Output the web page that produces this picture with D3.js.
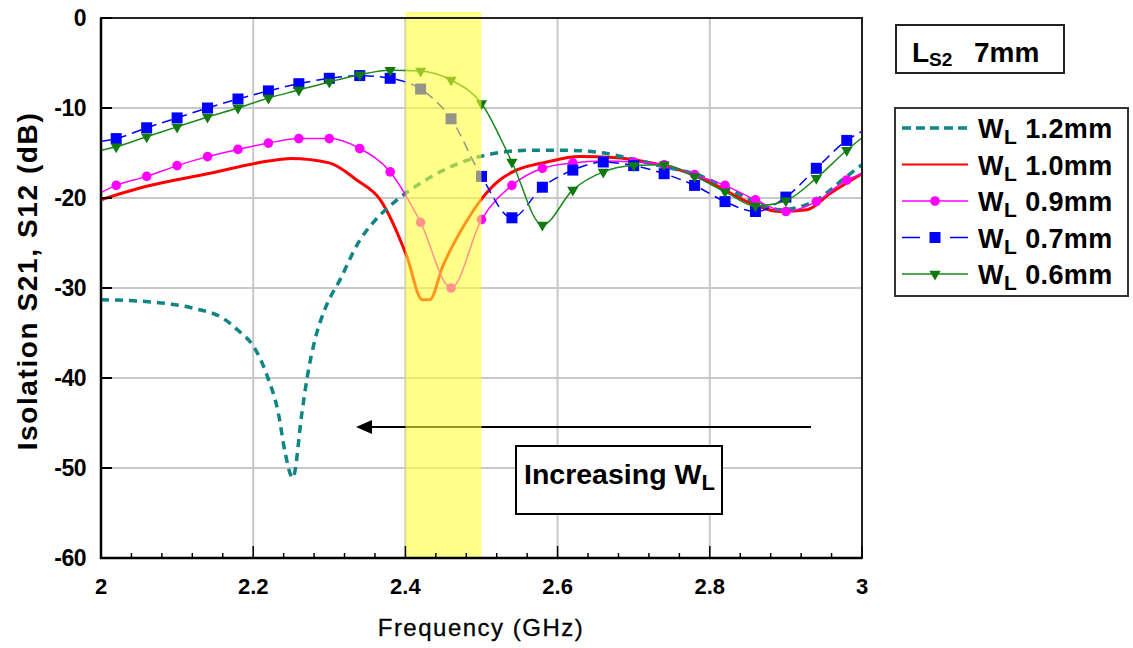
<!DOCTYPE html>
<html>
<head>
<meta charset="utf-8">
<script src="https://cdn.jsdelivr.net/npm/d3@7"></script>
<style>
  body { margin: 0; background: #fff; }
  svg { font-family: "Liberation Sans", Arial, sans-serif; }
</style>
</head>
<body>
<div id="chart"></div>
<script>
// marker frequencies (GHz), ends 2.0 and 3.0 carry no marker
const markerFreq = [2.00, 2.02, 2.06, 2.10, 2.14, 2.18, 2.22, 2.26, 2.30, 2.34, 2.38, 2.42, 2.46,
    2.50, 2.54, 2.58, 2.62, 2.66, 2.70, 2.74, 2.78, 2.82, 2.86, 2.90, 2.94, 2.98, 3.00];

const wl09 = [-19.4, -18.6, -17.6, -16.4, -15.4, -14.6, -13.9, -13.4, -13.4, -14.5, -17.1, -22.7, -30.0,
    -22.4, -18.6, -16.7, -16.1, -15.9, -16.0, -16.3, -17.4, -18.6, -20.2, -21.5, -20.4, -18.0, -17.3];
const wl07 = [-13.7, -13.4, -12.2, -11.1, -10.0, -9.0, -8.1, -7.3, -6.7, -6.4, -6.7, -7.9, -11.2,
    -17.6, -22.2, -18.8, -16.9, -16.0, -16.4, -17.3, -18.6, -20.4, -21.5, -19.9, -16.7, -13.6, -12.6];
const wl06 = [-14.7, -14.3, -13.2, -12.1, -11.0, -10.0, -8.9, -8.0, -7.1, -6.3, -5.8, -5.9, -6.9,
    -9.5, -16.0, -23.0, -19.1, -17.1, -16.4, -16.3, -17.6, -19.3, -20.9, -20.3, -17.8, -14.7, -13.3];

// W_L 1.0mm (no markers)
const wl10Freq = [2.00, 2.06, 2.14, 2.22, 2.25, 2.30, 2.336, 2.367, 2.402, 2.422, 2.432, 2.449, 2.476,
    2.502, 2.524, 2.541, 2.586, 2.629, 2.673, 2.717, 2.761, 2.804, 2.849, 2.892, 2.928, 2.958, 3.00];
const wl10 = [-20.2, -18.7, -17.3, -15.9, -15.6, -16.1, -18.0, -20.2, -26.5, -31.3, -31.3, -27.6, -23.2,
    -19.9, -18.0, -17.1, -16.0, -15.4, -15.5, -16.0, -16.9, -18.4, -20.4, -21.5, -21.3, -19.5, -17.3];

// W_L 1.2mm (dashed, no markers)
const wl12Freq = [2.00, 2.058, 2.093, 2.124, 2.159, 2.180, 2.202, 2.219, 2.233, 2.242, 2.252, 2.264, 2.271,
    2.281, 2.294, 2.314, 2.340, 2.357, 2.389, 2.423, 2.455, 2.489, 2.520, 2.564, 2.607, 2.652, 2.695,
    2.738, 2.783, 2.827, 2.870, 2.892, 2.936, 2.980, 3.00];
const wl12 = [-31.3, -31.5, -31.8, -32.3, -33.3, -34.7, -36.7, -39.9, -43.9, -48.3, -51.1, -43.9, -39.9,
    -35.8, -32.4, -29.1, -24.7, -22.8, -20.2, -18.2, -16.7, -15.6, -15.0, -14.7, -14.7, -14.9, -15.6,
    -16.5, -17.4, -19.1, -20.8, -21.3, -20.4, -17.6, -16.3];

const xTicks = [2, 2.2, 2.4, 2.6, 2.8, 3];
const yTicks = [0, -10, -20, -30, -40, -50, -60];
const band = [2.4, 2.5];

const legendLabels = ["1.2mm", "1.0mm", "0.9mm", "0.7mm", "0.6mm"];

function zip(fs, vs) {
    return fs.map((f, i) => ({ f: f, v: vs[i] }));
}

function drawChart() {
    const width = 1133, height = 648;
    const svg = d3.select("#chart").append("svg")
        .attr("width", width)
        .attr("height", height);

    const x = d3.scaleLinear().domain([2, 3]).range([101, 862]);
    const y = d3.scaleLinear().domain([-60, 0]).range([558, 18]);

    // grid
    svg.append("g")
        .selectAll("line.vg")
        .data(xTicks.slice(1, -1))
        .enter().append("line")
        .attr("x1", d => x(d)).attr("x2", d => x(d))
        .attr("y1", y(0)).attr("y2", y(-60))
        .attr("stroke", "#c8c8c8").attr("stroke-width", 2);
    svg.append("g")
        .selectAll("line.hg")
        .data(yTicks.slice(1, -1))
        .enter().append("line")
        .attr("x1", x(2)).attr("x2", x(3))
        .attr("y1", d => y(d)).attr("y2", d => y(d))
        .attr("stroke", "#c8c8c8").attr("stroke-width", 2);

    const line = d3.line()
        .x(d => x(d.f))
        .y(d => y(d.v))
        .curve(d3.curveMonotoneX);

    const plot = svg.append("g");

    // W_L 1.0mm red
    plot.append("path")
        .attr("d", line(zip(wl10Freq, wl10)))
        .attr("fill", "none").attr("stroke", "#ff0000").attr("stroke-width", 3);

    // W_L 1.2mm teal dashed
    plot.append("path")
        .attr("d", line(zip(wl12Freq, wl12)))
        .attr("fill", "none").attr("stroke", "#0f8585").attr("stroke-width", 3.5)
        .attr("stroke-dasharray", "8,6");

    // W_L 0.9mm magenta with circles
    const d09 = zip(markerFreq, wl09);
    plot.append("path")
        .attr("d", line(d09))
        .attr("fill", "none").attr("stroke", "#ff00ff").attr("stroke-width", 1.5);
    plot.append("g").selectAll("circle")
        .data(d09.slice(1, -1))
        .enter().append("circle")
        .attr("cx", d => x(d.f)).attr("cy", d => y(d.v))
        .attr("r", 4.8).attr("fill", "#ff00ff");

    // W_L 0.7mm blue dashed with squares
    const d07 = zip(markerFreq, wl07);
    plot.append("path")
        .attr("d", line(d07))
        .attr("fill", "none").attr("stroke", "#0000ff").attr("stroke-width", 1.5)
        .attr("stroke-dasharray", "10,6");
    plot.append("g").selectAll("rect")
        .data(d07.slice(1, -1))
        .enter().append("rect")
        .attr("x", d => x(d.f) - 5.5).attr("y", d => y(d.v) - 5.5)
        .attr("width", 11).attr("height", 11)
        .attr("fill", "#0000ff");

    // W_L 0.6mm green with down triangles
    const d06 = zip(markerFreq, wl06);
    plot.append("path")
        .attr("d", line(d06))
        .attr("fill", "none").attr("stroke", "#1a8a1a").attr("stroke-width", 1.5);
    const tri = d3.symbol().type(d3.symbolTriangle).size(55);
    plot.append("g").selectAll("path")
        .data(d06.slice(1, -1))
        .enter().append("path")
        .attr("d", tri)
        .attr("transform", d => `translate(${x(d.f)},${y(d.v)}) rotate(180)`)
        .attr("fill", "#107a10");

    // arrow "Increasing W_L"
    svg.append("line")
        .attr("x1", 811).attr("x2", 371)
        .attr("y1", 427).attr("y2", 427)
        .attr("stroke", "#000").attr("stroke-width", 2);
    svg.append("path")
        .attr("d", "M356,427 L372,420 L372,434 Z")
        .attr("fill", "#000");

    // highlighted band 2.4-2.5 GHz, on top of curves
    svg.append("rect")
        .attr("x", x(band[0])).attr("y", 12)
        .attr("width", x(band[1]) - x(band[0]))
        .attr("height", y(-60) - 12)
        .attr("fill", "#ffff33").attr("opacity", 0.58);

    // frame
    svg.append("rect")
        .attr("x", x(2)).attr("y", y(0))
        .attr("width", x(3) - x(2)).attr("height", y(-60) - y(0))
        .attr("fill", "none").attr("stroke", "#222").attr("stroke-width", 2);
    svg.append("line")
        .attr("x1", x(2)).attr("x2", x(2)).attr("y1", y(0)).attr("y2", y(-60) + 1)
        .attr("stroke", "#000").attr("stroke-width", 2.5);
    svg.append("line")
        .attr("x1", x(2) - 1).attr("x2", x(3)).attr("y1", y(-60)).attr("y2", y(-60))
        .attr("stroke", "#000").attr("stroke-width", 2.5);

    // y ticks, inward
    svg.append("g").selectAll("line")
        .data(yTicks)
        .enter().append("line")
        .attr("x1", x(2)).attr("x2", x(2) + 11)
        .attr("y1", d => y(d)).attr("y2", d => y(d))
        .attr("stroke", "#000").attr("stroke-width", 2);
    svg.append("g").selectAll("text")
        .data(yTicks)
        .enter().append("text")
        .attr("x", 86).attr("y", d => y(d) + 8)
        .attr("text-anchor", "end")
        .attr("font-size", 23).attr("font-weight", "bold")
        .attr("letter-spacing", -0.5)
        .text(d => d);

    // x ticks, inward; major every 0.2, minor every 0.04
    const minor = d3.range(0, 26).map(i => 2 + i * 0.04);
    svg.append("g").selectAll("line")
        .data(minor)
        .enter().append("line")
        .attr("x1", d => x(d)).attr("x2", d => x(d))
        .attr("y1", y(-60))
        .attr("y2", (d, i) => y(-60) - (i % 5 === 0 ? 12 : 5))
        .attr("stroke", "#000").attr("stroke-width", 1.5);
    svg.append("g").selectAll("text")
        .data(xTicks)
        .enter().append("text")
        .attr("x", d => x(d)).attr("y", 594)
        .attr("text-anchor", "middle")
        .attr("font-size", 22).attr("font-weight", "bold")
        .text(d => d);

    // axis titles
    svg.append("text")
        .attr("x", 481).attr("y", 636)
        .attr("text-anchor", "middle")
        .attr("font-size", 24).attr("letter-spacing", 1.5)
        .attr("stroke", "#000").attr("stroke-width", 0.3)
        .text("Frequency (GHz)");
    svg.append("text")
        .attr("transform", "translate(37,281) rotate(-90)")
        .attr("text-anchor", "middle")
        .attr("font-size", 28).attr("font-weight", "bold")
        .attr("letter-spacing", 1.6)
        .text("Isolation S21, S12 (dB)");

    // "Increasing W_L" box
    svg.append("rect")
        .attr("x", 516).attr("y", 446).attr("width", 206).attr("height", 68)
        .attr("fill", "#fff").attr("stroke", "#000").attr("stroke-width", 2);
    const inc = svg.append("text")
        .attr("x", 524).attr("y", 484)
        .attr("font-size", 28.5).attr("font-weight", "bold");
    inc.append("tspan").text("Increasing W");
    inc.append("tspan").attr("dy", 6).attr("font-size", 22).text("L");

    // "L_S2 7mm" box
    svg.append("rect")
        .attr("x", 896).attr("y", 25).attr("width", 168).attr("height", 48)
        .attr("fill", "#fff").attr("stroke", "#222").attr("stroke-width", 2);
    const ls = svg.append("text")
        .attr("x", 912).attr("y", 62)
        .attr("font-size", 28).attr("font-weight", "bold");
    ls.append("tspan").text("L");
    ls.append("tspan").attr("dy", 4).attr("font-size", 19).text("S2");
    ls.append("tspan").attr("x", 974).attr("dy", -4).text("7mm");

    // legend
    svg.append("rect")
        .attr("x", 895).attr("y", 108).attr("width", 233).attr("height", 188)
        .attr("fill", "#fff").attr("stroke", "#333").attr("stroke-width", 2);
    const rowY = i => 128 + i * 36.5;
    const lx1 = 902, lx2 = 968, lmid = 935;
    const lg = svg.append("g");
    lg.append("line").attr("x1", lx1).attr("x2", lx2).attr("y1", rowY(0)).attr("y2", rowY(0))
        .attr("stroke", "#0f8585").attr("stroke-width", 3.5).attr("stroke-dasharray", "9,5");
    lg.append("line").attr("x1", lx1).attr("x2", lx2).attr("y1", rowY(1)).attr("y2", rowY(1))
        .attr("stroke", "#ff0000").attr("stroke-width", 2);
    lg.append("line").attr("x1", lx1).attr("x2", lx2).attr("y1", rowY(2)).attr("y2", rowY(2))
        .attr("stroke", "#ff00ff").attr("stroke-width", 1.5);
    lg.append("circle").attr("cx", lmid).attr("cy", rowY(2)).attr("r", 4.8).attr("fill", "#ff00ff");
    lg.append("line").attr("x1", lx1).attr("x2", lx2).attr("y1", rowY(3)).attr("y2", rowY(3))
        .attr("stroke", "#0000ff").attr("stroke-width", 1.5).attr("stroke-dasharray", "18,30");
    lg.append("rect").attr("x", lmid - 5.5).attr("y", rowY(3) - 5.5).attr("width", 11).attr("height", 11)
        .attr("fill", "#0000ff");
    lg.append("line").attr("x1", lx1).attr("x2", lx2).attr("y1", rowY(4)).attr("y2", rowY(4))
        .attr("stroke", "#1a8a1a").attr("stroke-width", 1.5);
    lg.append("path").attr("d", tri)
        .attr("transform", `translate(${lmid},${rowY(4)}) rotate(180)`)
        .attr("fill", "#107a10");

    legendLabels.forEach((lab, i) => {
        const t = lg.append("text")
            .attr("x", 978).attr("y", rowY(i) + 10)
            .attr("font-size", 27).attr("font-weight", "bold")
            .attr("letter-spacing", 0.4);
        t.append("tspan").text("W");
        t.append("tspan").attr("dy", 6).attr("font-size", 21).text("L");
        t.append("tspan").attr("dy", -6).attr("dx", 8).text(lab);
    });
}

drawChart();
</script>
</body>
</html>
